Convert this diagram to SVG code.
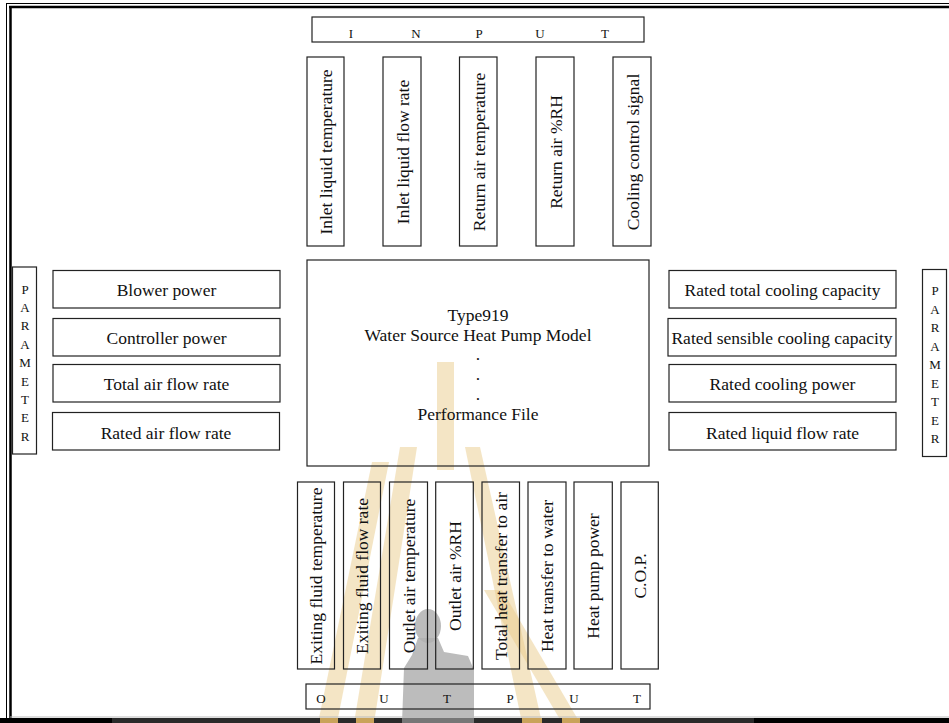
<svg xmlns="http://www.w3.org/2000/svg" width="949" height="723" viewBox="0 0 949 723">
<style>
.box{fill:none;stroke:#222;stroke-width:1.2}
.t{font-family:"Liberation Serif","Times New Roman",serif;font-size:17.5px;fill:#111;text-anchor:middle}
.s{font-family:"Liberation Serif","Times New Roman",serif;font-size:13px;fill:#111;text-anchor:middle}
.gold{fill:#e9cc8c;opacity:0.5}
.gray{fill:#b0b0b0;opacity:0.85}
</style>
<rect x="0" y="0" width="949" height="723" fill="#fff"/>
<g id="watermark">
<rect class="gold" x="437" y="362" width="17" height="108"/>
<polygon class="gold" points="400,447 417,447 374,723 354,723"/>
<polygon class="gold" points="465,447 480,447 542,723 522,723"/>
<polygon class="gold" points="372,462 389,462 337,723 318,723"/>
<polygon class="gold" points="484,590 502,590 580,723 562,723"/>
<ellipse class="gray" cx="428" cy="626" rx="13" ry="17"/>
<path class="gray" d="M418,638 L438,638 L444,652 L468,656 L474,670 L474,723 L402,723 L404,668 L412,655 Z"/>
</g>
<g id="frame">
<line x1="6" y1="3.5" x2="949" y2="3.5" stroke="#000" stroke-width="1"/>
<line x1="9" y1="7" x2="949" y2="7" stroke="#000" stroke-width="2.5"/>
<line x1="6.5" y1="3" x2="6.5" y2="721" stroke="#000" stroke-width="1"/>
<line x1="10.5" y1="6" x2="10.5" y2="723" stroke="#000" stroke-width="2.5"/>
<line x1="10" y1="717" x2="949" y2="717" stroke="#bbb" stroke-width="1"/>
<rect x="0" y="718" width="949" height="5" fill="#000"/>
<rect x="112" y="718" width="642" height="5" fill="#2a2a2a"/>
<rect x="320" y="718" width="18" height="5" fill="#c9a35a"/>
<rect x="356" y="718" width="18" height="5" fill="#c9a35a"/>
<rect x="402" y="718" width="72" height="5" fill="#777"/>
<rect x="522" y="718" width="20" height="5" fill="#c9a35a"/>
<rect x="562" y="718" width="18" height="5" fill="#c9a35a"/>
</g>
<g id="connectors"></g>
<g id="input-header">
<rect class="box" x="312" y="17" width="332" height="25"/>
<text class="s" x="351" y="38">I</text>
<text class="s" x="416" y="38">N</text>
<text class="s" x="479" y="38">P</text>
<text class="s" x="540" y="38">U</text>
<text class="s" x="605" y="38">T</text>
</g>
<g id="in1"><rect class="box" x="307" y="57" width="37" height="189"/><text class="t" transform="translate(332,152) rotate(-90)">Inlet liquid temperature</text></g>
<g id="in2"><rect class="box" x="383" y="57" width="38" height="189"/><text class="t" transform="translate(408.5,152) rotate(-90)">Inlet liquid flow rate</text></g>
<g id="in3"><rect class="box" x="459.5" y="57" width="37.5" height="189"/><text class="t" transform="translate(484.5,152) rotate(-90)">Return air temperature</text></g>
<g id="in4"><rect class="box" x="536" y="57" width="38" height="189"/><text class="t" transform="translate(561.5,152) rotate(-90)">Return air %RH</text></g>
<g id="in5"><rect class="box" x="613" y="57" width="38" height="189"/><text class="t" transform="translate(638.5,152) rotate(-90)">Cooling control signal</text></g>
<g id="model">
<rect class="box" x="307" y="260" width="342" height="206"/>
<text class="t" x="478" y="321">Type919</text>
<text class="t" x="478" y="341">Water Source Heat Pump Model</text>
<text class="t" x="478" y="360">.</text>
<text class="t" x="478" y="380">.</text>
<text class="t" x="478" y="400">.</text>
<text class="t" x="478" y="420">Performance File</text>
</g>
<g id="param-left">
<rect class="box" x="12.5" y="267" width="24" height="187"/>
<text class="s" x="25" y="293.5">P</text>
<text class="s" x="25" y="311.9">A</text>
<text class="s" x="25" y="330.3">R</text>
<text class="s" x="25" y="348.7">A</text>
<text class="s" x="25" y="367.1">M</text>
<text class="s" x="25" y="385.5">E</text>
<text class="s" x="25" y="403.9">T</text>
<text class="s" x="25" y="422.3">E</text>
<text class="s" x="25" y="440.7">R</text>
</g>
<g id="p1"><rect class="box" x="53" y="270.5" width="227" height="37.5"/><text class="t" x="166.5" y="296">Blower power</text></g>
<g id="p2"><rect class="box" x="53" y="318.5" width="227" height="37.5"/><text class="t" x="166.5" y="344">Controller power</text></g>
<g id="p3"><rect class="box" x="53" y="364.5" width="227" height="37.5"/><text class="t" x="166.5" y="390">Total air flow rate</text></g>
<g id="p4"><rect class="box" x="52.5" y="412.5" width="227" height="37.5"/><text class="t" x="166" y="438.5">Rated air flow rate</text></g>
<g id="param-right">
<rect class="box" x="922.5" y="269.5" width="24" height="187"/>
<text class="s" x="935" y="295">P</text>
<text class="s" x="935" y="313.5">A</text>
<text class="s" x="935" y="332">R</text>
<text class="s" x="935" y="350.5">A</text>
<text class="s" x="935" y="369">M</text>
<text class="s" x="935" y="387.5">E</text>
<text class="s" x="935" y="406">T</text>
<text class="s" x="935" y="424.5">E</text>
<text class="s" x="935" y="443">R</text>
</g>
<g id="r1"><rect class="box" x="669" y="270.5" width="227" height="37.5"/><text class="t" x="782.5" y="296">Rated total cooling capacity</text></g>
<g id="r2"><rect class="box" x="668" y="318.5" width="228" height="37.5"/><text class="t" x="782" y="344">Rated sensible cooling capacity</text></g>
<g id="r3"><rect class="box" x="669" y="364.5" width="227" height="37.5"/><text class="t" x="782.5" y="390">Rated cooling power</text></g>
<g id="r4"><rect class="box" x="669" y="412.5" width="227" height="37.5"/><text class="t" x="782.5" y="438.5">Rated liquid flow rate</text></g>
<g id="o1"><rect class="box" x="297.5" y="482" width="37" height="187"/><text class="t" transform="translate(322,576) rotate(-90)">Exiting fluid temperature</text></g>
<g id="o2"><rect class="box" x="343.5" y="482" width="37" height="187"/><text class="t" transform="translate(368,576) rotate(-90)">Exiting fluid flow rate</text></g>
<g id="o3"><rect class="box" x="389.5" y="482" width="38" height="187"/><text class="t" transform="translate(414.5,576) rotate(-90)">Outlet air temperature</text></g>
<g id="o4"><rect class="box" x="435.7" y="482" width="37.6" height="187"/><text class="t" transform="translate(460.5,576) rotate(-90)">Outlet air %RH</text></g>
<g id="o5"><rect class="box" x="482" y="482" width="37.5" height="187"/><text class="t" transform="translate(506.5,576) rotate(-90)">Total heat transfer to air</text></g>
<g id="o6"><rect class="box" x="528" y="482" width="38" height="187"/><text class="t" transform="translate(553,576) rotate(-90)">Heat transfer to water</text></g>
<g id="o7"><rect class="box" x="574" y="482" width="38.3" height="187"/><text class="t" transform="translate(599,576) rotate(-90)">Heat pump power</text></g>
<g id="o8"><rect class="box" x="621" y="482" width="37.3" height="187"/><text class="t" transform="translate(645.5,576) rotate(-90)">C.O.P.</text></g>
<g id="output-header">
<rect class="box" x="306" y="684" width="344" height="25"/>
<text class="s" x="321" y="703">O</text>
<text class="s" x="384" y="703">U</text>
<text class="s" x="447" y="703">T</text>
<text class="s" x="510" y="703">P</text>
<text class="s" x="574" y="703">U</text>
<text class="s" x="637" y="703">T</text>
</g>
</svg>
